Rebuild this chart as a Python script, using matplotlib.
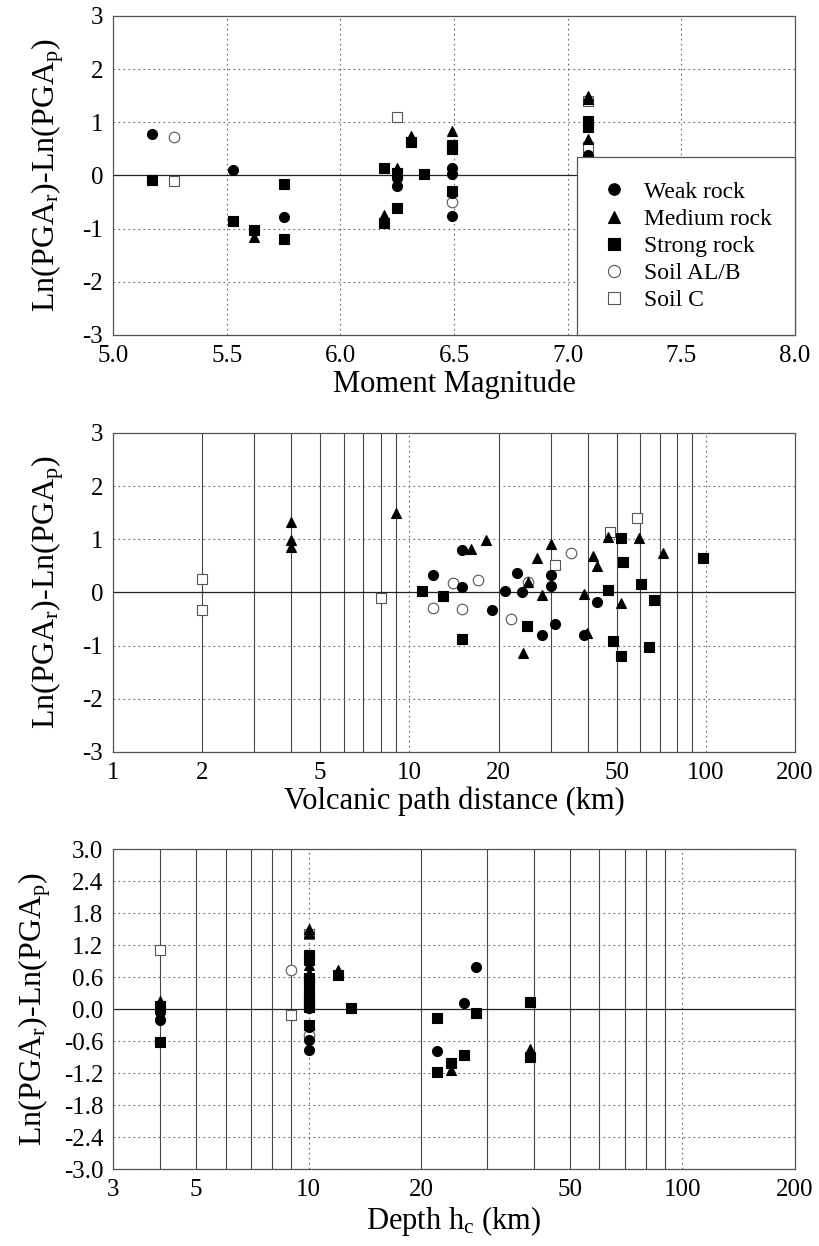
import numpy as np
import matplotlib.pyplot as plt

plt.rcParams['font.family'] = ['Liberation Serif', 'DejaVu Serif']
plt.rcParams['mathtext.fontset'] = 'custom'
plt.rcParams['mathtext.rm'] = 'Liberation Serif'
plt.rcParams['mathtext.it'] = 'Liberation Serif:italic'
plt.rcParams['axes.unicode_minus'] = False

# earthquakes: moment magnitude and focal depth (km)
event_mw = [5.17, 5.27, 5.53, 5.62, 5.75, 6.19, 6.25, 6.31, 6.37, 6.49, 7.09]
event_depth = [28, 9, 26, 24, 22, 39, 4, 12, 13, 10, 10]

# residual records per site class (event index, residual)
weak_ev = [0, 2, 4, 6, 6, 9, 9, 9, 9, 10, 10, 10]
weak_res = [0.78, 0.11, -0.78, -0.05, -0.2, 0.14, 0.02, -0.33, -0.77, 0.38, 0.15, -0.58]
medium_ev = [3, 5, 6, 6, 7, 9, 10, 10, 10, 10]
medium_res = [-1.15, -0.75, 0.15, -0.1, 0.74, 0.83, 1.5, 1.43, 0.68, 0.25]
strong_ev = [0, 2, 3, 4, 4, 5, 5, 6, 6, 7, 8, 9, 9, 9, 10, 10, 10, 10, 10, 10]
strong_res = [-0.08, -0.86, -1.02, -0.16, -1.19, 0.14, -0.9, 0.05, -0.62, 0.63,
              0.02, 0.58, 0.49, -0.3, 1.02, 0.92, 0.28, 0.2, 0.12, 0.04]
soilab_ev = [1, 9]
soilab_res = [0.73, -0.49]
soilc_ev = [1, 6, 10, 10]
soilc_res = [-0.11, 1.1, 1.4, 0.53]

# volcanic path distance (km) vs residual
weak_dist = [12, 15, 15, 19, 21, 23, 24, 28, 30, 30, 31, 38.8, 42.8]
weak_dres = [0.32, 0.79, 0.11, -0.32, 0.03, 0.36, 0.0, -0.8, 0.33, 0.12, -0.59, -0.79, -0.17]
medium_dist = [4, 4, 4, 9, 16.1, 18.1, 24.1, 25.1, 26.9, 28, 30, 38.8, 39.7, 41.7,
               42.8, 46.8, 51.6, 59.7, 71.9]
medium_dres = [1.33, 0.99, 0.85, 1.49, 0.82, 0.99, -1.14, 0.2, 0.65, -0.05, 0.92,
               -0.02, -0.77, 0.69, 0.5, 1.05, -0.2, 1.02, 0.74]
strong_dist = [11, 13, 15, 25, 46.8, 48.7, 51.7, 52.7, 51.6, 60.6, 64.5, 66.8, 97.6]
strong_dres = [0.03, -0.07, -0.87, -0.63, 0.05, -0.91, 1.02, 0.57, -1.19, 0.16, -1.03, -0.14, 0.64]
soilab_dist = [12, 14, 15, 17, 22.1, 25.1, 35]
soilab_dres = [-0.29, 0.17, -0.31, 0.235, -0.5, 0.2, 0.75]
soilc_dist = [2, 2, 8, 30.9, 47.5, 58.7]
soilc_dres = [0.25, -0.32, -0.1, 0.52, 1.14, 1.41]

labels = ['Weak rock', 'Medium rock', 'Strong rock', 'Soil AL/B', 'Soil C']
markers = ['o', '^', 's', 'o', 's']
faces = ['black', 'black', 'black', 'white', 'white']
edges = ['black', 'black', 'black', '#555555', '#555555']
sizes = [7.2, 7.6, 7.4, 7.6, 7.8]
layer = [4, 4, 4, 3, 3]  # filled symbols drawn over the open ones

ev_lists = [weak_ev, medium_ev, strong_ev, soilab_ev, soilc_ev]
res_lists = [weak_res, medium_res, strong_res, soilab_res, soilc_res]
dist_lists = [weak_dist, medium_dist, strong_dist, soilab_dist, soilc_dist]
dres_lists = [weak_dres, medium_dres, strong_dres, soilab_dres, soilc_dres]

dot = (0, (1.5, 3))
grid_c = '#666666'
ylab = r'Ln(PGA$_\mathrm{r}$)-Ln(PGA$_\mathrm{p}$)'

fig = plt.figure(figsize=(8.2, 12.46), dpi=100)
W, H = 820, 1246


def make_ax(top, bottom):
    ax = fig.add_axes([113 / W, 1 - bottom / H, 682 / W, (bottom - top) / H])
    for s in ax.spines.values():
        s.set_color('#555555')
        s.set_linewidth(0.9)
    ax.tick_params(length=0, labelsize=18, pad=7)
    ax.axhline(0, color='#222222', lw=0.9, zorder=1)
    return ax


def draw(ax, xs_lists, ys_lists):
    for xs, ys, lab, m, fc, ec, ms, z in zip(xs_lists, ys_lists, labels, markers,
                                              faces, edges, sizes, layer):
        ax.plot(xs, ys, ls='none', marker=m, ms=ms, mfc=fc, mec=ec, mew=0.8,
                label=lab, zorder=z)


def log_grid(ax, decades):
    for dec in decades:
        for k in range(2, 10):
            ax.axvline(k * dec, color='#444444', lw=0.8, zorder=0)
        ax.axvline(10 * dec, color=grid_c, lw=0.8, ls=dot, zorder=0)


# --- top: moment magnitude
ax1 = make_ax(16, 335)
mw = np.array(event_mw)
draw(ax1, [mw[e] for e in ev_lists], res_lists)
ax1.set_xlim(5.0, 8.0)
ax1.set_ylim(-3, 3)
ax1.set_xticks(np.arange(5.0, 8.01, 0.5))
ax1.set_xticklabels(['%.1f' % v for v in np.arange(5.0, 8.01, 0.5)])
ax1.set_yticks(range(-3, 4))
for v in np.arange(5.5, 8.0, 0.5):
    ax1.axvline(v, color=grid_c, lw=0.8, ls=dot, zorder=0)
for v in [-2, -1, 1, 2]:
    ax1.axhline(v, color=grid_c, lw=0.8, ls=dot, zorder=0)
ax1.set_xlabel('Moment Magnitude', fontsize=22, labelpad=2)
ax1.set_ylabel(ylab, fontsize=23, labelpad=12)
leg = ax1.legend(loc='lower right', borderaxespad=0, fontsize=17, frameon=True,
                 fancybox=False, framealpha=1, edgecolor='#555555',
                 handletextpad=0.7, labelspacing=0.24, borderpad=1.0,
                 handlelength=1.1, markerscale=1.15)
leg.get_frame().set_linewidth(0.9)
leg.set_zorder(6)

# --- middle: volcanic path distance
ax2 = make_ax(433, 752)
draw(ax2, dist_lists, dres_lists)
ax2.set_xscale('log')
ax2.set_xlim(1, 200)
ax2.set_ylim(-3, 3)
ax2.minorticks_off()
xt = [1, 2, 5, 10, 20, 50, 100, 200]
ax2.set_xticks(xt)
ax2.set_xticklabels([str(v) for v in xt])
ax2.set_yticks(range(-3, 4))
log_grid(ax2, [1, 10])
for v in [-2, -1, 1, 2]:
    ax2.axhline(v, color=grid_c, lw=0.8, ls=dot, zorder=0)
ax2.set_xlabel('Volcanic path distance (km)', fontsize=22, labelpad=2)
ax2.set_ylabel(ylab, fontsize=23, labelpad=12)

# --- bottom: focal depth
ax3 = make_ax(849, 1169)
dep = np.array(event_depth)
draw(ax3, [dep[e] for e in ev_lists], res_lists)
ax3.set_xscale('log')
ax3.set_xlim(3, 200)
ax3.set_ylim(-3, 3)
ax3.minorticks_off()
xt3 = [3, 5, 10, 20, 50, 100, 200]
ax3.set_xticks(xt3)
ax3.set_xticklabels([str(v) for v in xt3])
yt3 = np.round(np.arange(-3.0, 3.01, 0.6), 1)
ax3.set_yticks(yt3)
ax3.set_yticklabels(['%.1f' % v for v in yt3])
for k in range(4, 10):
    ax3.axvline(k, color='#444444', lw=0.8, zorder=0)
log_grid(ax3, [10])
ax3.axvline(10, color=grid_c, lw=0.8, ls=dot, zorder=0)
for v in yt3:
    if abs(v) > 1e-6:
        ax3.axhline(v, color=grid_c, lw=0.8, ls=dot, zorder=0)
ax3.set_xlabel(r'Depth h$_\mathrm{c}$ (km)', fontsize=22, labelpad=2)
ax3.set_ylabel(ylab, fontsize=23, labelpad=8)

fig.savefig('out.png', dpi=100, facecolor='white')
